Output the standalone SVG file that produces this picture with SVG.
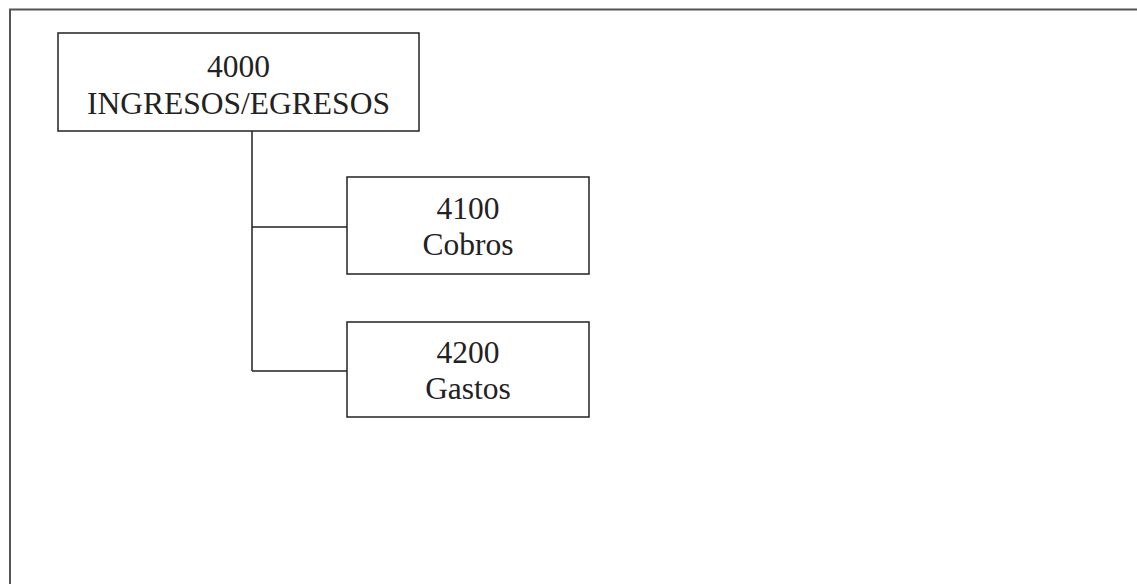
<svg xmlns="http://www.w3.org/2000/svg" width="1137" height="584" viewBox="0 0 1137 584">
<style>
.box{fill:#fff;stroke:#222;stroke-width:1.5}
.lbl{font-family:"Liberation Serif","Times New Roman",serif;font-size:31.5px;fill:#222;text-anchor:middle}
.con{fill:none;stroke:#222;stroke-width:1.5}
</style>
<rect width="1137" height="584" fill="#fff"/>
<path d="M10,590 L10,9.5 L1140,9.5" fill="none" stroke="#555" stroke-width="2"/>
<g id="connectors">
<path class="con" d="M252,131 L252,371 M252,227 L347,227 M252,371 L347,371"/>
</g>
<g id="n4000">
<rect class="box" x="58" y="33" width="361" height="98"/>
<text class="lbl" x="238.5" y="77">4000</text>
<text class="lbl" x="238.5" y="114">INGRESOS/EGRESOS</text>
</g>
<g id="n4100">
<rect class="box" x="347" y="177" width="242" height="97"/>
<text class="lbl" x="468" y="219">4100</text>
<text class="lbl" x="468" y="255">Cobros</text>
</g>
<g id="n4200">
<rect class="box" x="347" y="322" width="242" height="95"/>
<text class="lbl" x="468" y="363">4200</text>
<text class="lbl" x="468" y="399">Gastos</text>
</g>
</svg>
